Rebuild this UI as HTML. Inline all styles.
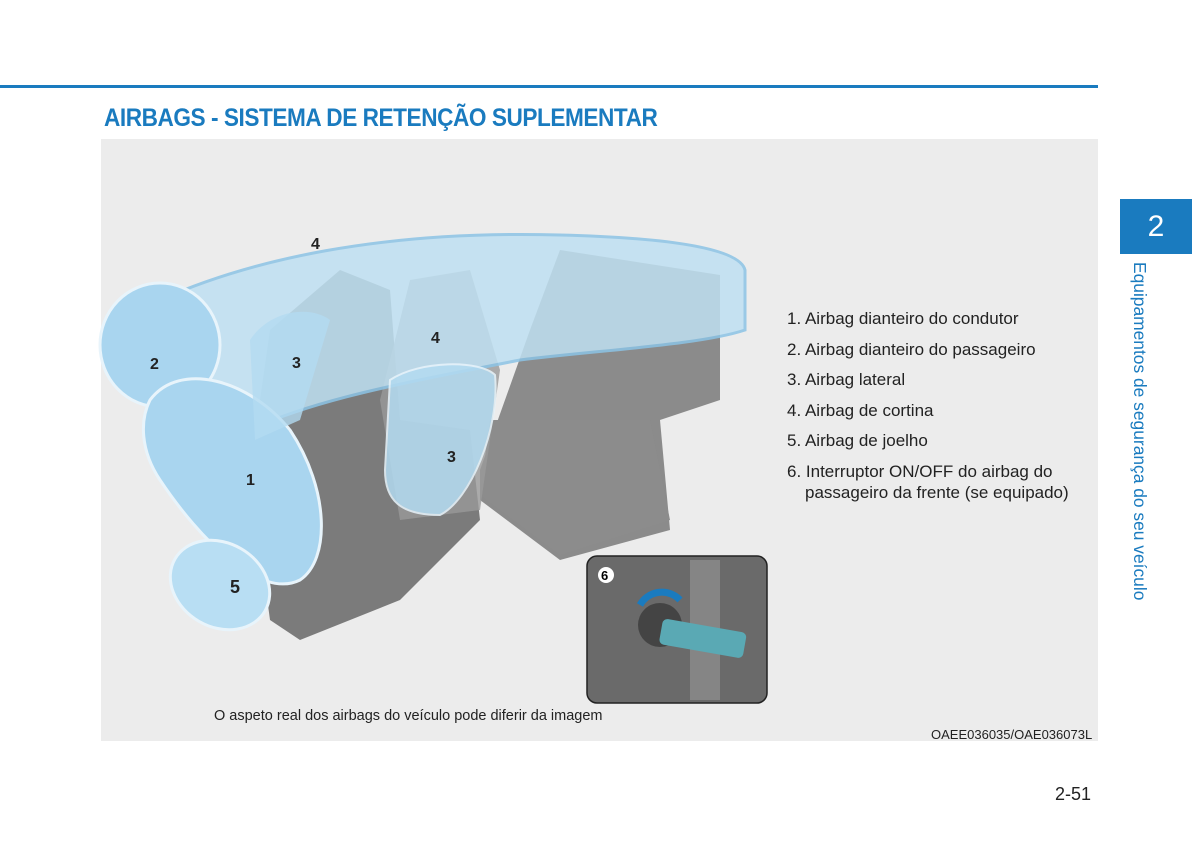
<!DOCTYPE html>
<html><head><meta charset="utf-8"><style>
body{margin:0;width:1200px;height:859px;background:#fff;position:relative;overflow:hidden;font-family:"Liberation Sans",sans-serif}
.abs{position:absolute}
</style></head><body>
<div class="abs" style="left:0;top:85px;width:1098px;height:3px;background:#1a7bbf"></div>
<div class="abs" style="left:104px;top:104px;font-size:25px;font-weight:bold;color:#1a7bbf;letter-spacing:-0.5px;transform:scaleX(0.905);transform-origin:left">AIRBAGS - SISTEMA DE RETENÇÃO SUPLEMENTAR</div>
<div class="abs" style="left:101px;top:139px;width:997px;height:602px;background:#ececec"></div>
<div class="abs" style="left:1120px;top:199px;width:72px;height:55px;background:#1a7bbf;color:#fff;font-size:30px;text-align:center;line-height:55px">2</div>
<div class="abs" style="top:262px;width:345px;height:26px;transform:rotate(90deg);transform-origin:0 0;left:1150px;color:#1a7bbf;font-size:17.4px;white-space:nowrap">Equipamentos de segurança do seu veículo</div>
<svg class="abs" style="left:0;top:0" width="1200" height="859">
<path d="M480 470 L530 330 L560 250 L720 275 L720 400 L660 420 L670 530 L560 560 L480 500Z" fill="#7a7a7a" opacity="0.85"/>
<path d="M490 420 L650 420 L670 520 L560 555 L480 495Z" fill="#8c8c8c"/>
<path d="M270 620 L250 470 L270 330 L340 270 L390 290 L400 420 L470 430 L480 520 L400 600 L300 640Z" fill="#6f6f6f" opacity="0.9"/>
<path d="M410 280 L470 270 L500 370 L480 510 L400 520 L380 400Z" fill="#9a9a9a" opacity="0.8"/>
<path d="M160 300 C250 260 380 230 560 235 C680 238 740 250 745 270 L745 330 C700 345 600 350 520 360 C420 380 300 400 230 440 L160 360Z" fill="#bfe0f2" opacity="0.85" stroke="#8cc4e6" stroke-width="3"/>
<ellipse cx="160" cy="345" rx="60" ry="62" fill="#a9d5ef" stroke="#e8f4fb" stroke-width="3"/>
<path d="M150 400 C180 360 250 380 290 430 C330 490 330 560 300 580 C260 600 200 540 160 480 C140 450 140 420 150 400Z" fill="#a9d5ef" stroke="#e8f4fb" stroke-width="3"/>
<ellipse cx="220" cy="585" rx="52" ry="42" fill="#b8def3" stroke="#e8f4fb" stroke-width="3" transform="rotate(30 220 585)"/>
<path d="M390 380 C420 360 480 360 495 375 C500 430 470 500 440 515 C400 515 385 500 385 470Z" fill="#b3dbf1" opacity="0.85" stroke="#e8f4fb" stroke-width="2"/>
<path d="M250 340 C270 310 310 305 330 320 L300 420 L255 440Z" fill="#b3dbf1" opacity="0.8"/>
<g font-weight="bold" font-size="16" fill="#222">
<text x="311" y="249">4</text><text x="150" y="369">2</text><text x="292" y="368">3</text>
<text x="431" y="343">4</text><text x="447" y="462">3</text><text x="246" y="485">1</text>
<text x="230" y="593" font-size="18">5</text>
</g>
<rect x="587" y="556" width="180" height="147" rx="10" fill="#6a6a6a" stroke="#222" stroke-width="1.5"/>
<rect x="690" y="560" width="30" height="140" fill="#858585"/>
<circle cx="660" cy="625" r="22" fill="#444"/>
<path d="M640 605 A25 25 0 0 1 680 600" stroke="#1a7bbf" stroke-width="7" fill="none"/>
<rect x="660" y="625" width="85" height="26" rx="5" fill="#5aa9b4" transform="rotate(10 700 640)"/>
<circle cx="606" cy="575" r="8" fill="#fff"/><text x="601" y="580" font-size="13" font-weight="bold">6</text>
</svg>
<div class="abs" style="left:787px;top:304px;font-size:17px;color:#222;line-height:30.5px">
1. Airbag dianteiro do condutor<br>2. Airbag dianteiro do passageiro<br>3. Airbag lateral<br>4. Airbag de cortina<br>5. Airbag de joelho<br>6. Interruptor ON/OFF do airbag do
<div style="line-height:20px;margin-left:18px;margin-top:-4px">passageiro da frente (se equipado)</div></div>
<div class="abs" style="left:214px;top:708px;font-size:14.5px;color:#222">O aspeto real dos airbags do veículo pode diferir da imagem</div>
<div class="abs" style="left:931px;top:727px;font-size:13px;color:#222">OAEE036035/OAE036073L</div>
<div class="abs" style="left:1055px;top:784px;font-size:18px;color:#222">2-51</div>
</body></html>
